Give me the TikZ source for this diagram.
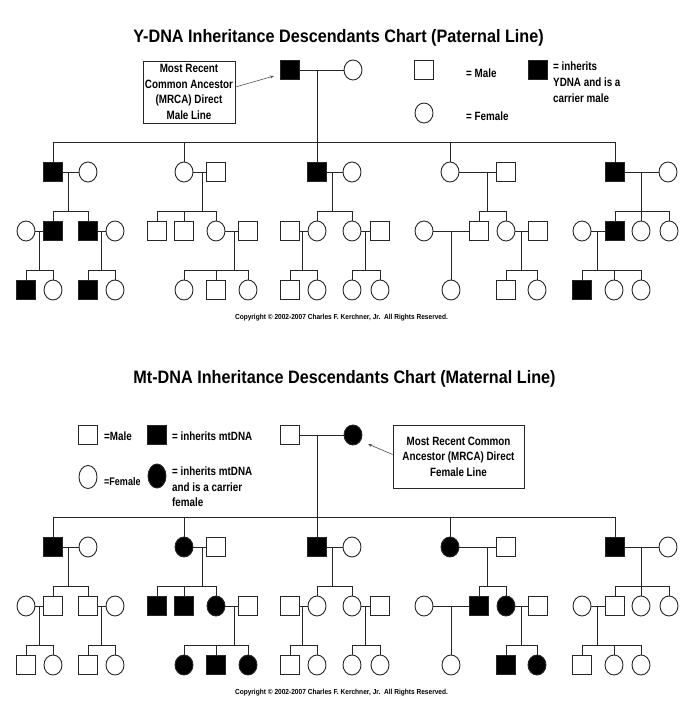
\documentclass[tikz,border=0pt]{standalone}
\usepackage{fontspec}
\setmainfont{Liberation Sans}
\newfontfamily\nfont[FakeStretch=0.82]{Liberation Sans}
\newfontfamily\tfont[FakeStretch=0.9]{Liberation Sans}
\usetikzlibrary{shapes.geometric,arrows.meta}
\tikzset{
  person/.style={draw=black!85, line width=0.9pt, inner sep=0pt, outer sep=0pt},
  male/.style={person, rectangle, minimum width=19pt, minimum height=19pt},
  female/.style={person, ellipse, minimum width=18pt, minimum height=20pt},
  dna/.style={fill=black},
  link/.style={draw=black!85, line width=0.9pt},
  titletext/.style={font=\tfont\bfseries\fontsize{18}{20}\selectfont, inner sep=0pt, anchor=base},
  boxtext/.style={draw=black!85, line width=0.9pt, font=\nfont\bfseries\fontsize{12}{15.5}\selectfont, align=center, inner sep=0pt},
  legtext/.style={font=\nfont\bfseries\fontsize{12}{16}\selectfont, inner sep=0pt, anchor=base west, align=left},
  copytext/.style={font=\tfont\bfseries\fontsize{7.3}{8}\selectfont, inner sep=0pt},
  pointer/.style={draw=black!70, line width=0.6pt, -{Stealth[length=4pt,width=3pt]}},
}
\begin{document}
\begin{tikzpicture}[x=1pt,y=-1pt]
\useasboundingbox[fill=white] (0,0) rectangle (691,710);

%%%%%%%%%%%%%%%% TOP CHART %%%%%%%%%%%%%%%%
\node[titletext] (t-title) at (338.5,42) {Y-DNA Inheritance Descendants Chart (Paternal Line)};

% MRCA box
\node[boxtext, minimum width=92pt, minimum height=62pt] (t-box) at (189,92) {Most Recent\\Common Ancestor\\(MRCA) Direct\\Male Line};
\coordinate (t-arr) at (274,76);
\draw[pointer] ([yshift=5pt]t-box.east) -- (t-arr);

% legend
\node[male] (t-lm) at (424,70) {};
\node[legtext] (t-lmt) at (466,77) {= Male};
\node[female] (t-lf) at (424,113) {};
\node[legtext] (t-lft) at (466,120) {= Female};
\node[male,dna] (t-lc) at (538,70) {};
\node[legtext, anchor=north west] (t-lct) at (553,61.5) {= inherits\\YDNA and is a\\carrier male};

% MRCA couple
\node[male,dna] (t-m) at (290,70) {};
\node[female] (t-f) at (353,70) {};
\draw[link] (t-m) -- (t-f);
\coordinate (t-mv) at (317,70);

% generation 1
\node[male,dna] (t-g1a) at (53,172) {};
\node[female] (t-g1b) at (88,172) {};
\node[female] (t-g2a) at (184,172) {};
\node[male] (t-g2b) at (216,172) {};
\node[male,dna] (t-g3a) at (317,172) {};
\node[female] (t-g3b) at (352,172) {};
\node[female] (t-g4a) at (450,172) {};
\node[male] (t-g4b) at (506,172) {};
\node[male,dna] (t-g5a) at (615,172) {};
\node[female] (t-g5b) at (668,172) {};
\draw[link] (t-mv) -- (t-g3a);
\draw[link] (t-g1a.north) -- ++(0,-20) -| (t-g5a.north);
\draw[link] (t-g2a.north) -- ++(0,-20);
\draw[link] (t-g4a.north) -- ++(0,-20);
\draw[link] (t-g1a) -- (t-g1b);
\draw[link] (t-g2a) -- (t-g2b);
\draw[link] (t-g3a) -- (t-g3b);
\draw[link] (t-g4a) -- (t-g4b);
\draw[link] (t-g5a) -- (t-g5b);
\coordinate (t-g1m) at (68,172);
\coordinate (t-g2m) at (202,172);
\coordinate (t-g3m) at (332,172);
\coordinate (t-g4m) at (487,172);
\coordinate (t-g5m) at (641,172);

% generation 2
\node[female] (t-c1w) at (26,231) {};
\node[male,dna] (t-c1a) at (53,231) {};
\node[male,dna] (t-c1b) at (88,231) {};
\node[female] (t-c1h) at (115,231) {};
\node[male] (t-c2a) at (157,231) {};
\node[male] (t-c2b) at (184,231) {};
\node[female] (t-c2c) at (216,231) {};
\node[male] (t-c2h) at (248,231) {};
\node[male] (t-c3h) at (290,231) {};
\node[female] (t-c3a) at (317,231) {};
\node[female] (t-c3b) at (352,231) {};
\node[male] (t-c3k) at (380,231) {};
\node[female] (t-c4w) at (424,231) {};
\node[male] (t-c4a) at (479,231) {};
\node[female] (t-c4b) at (506,231) {};
\node[male] (t-c4h) at (538,231) {};
\node[female] (t-c5w) at (582,231) {};
\node[male,dna] (t-c5a) at (615,231) {};
\node[female] (t-c5b) at (641,231) {};
\node[female] (t-c5c) at (669,231) {};
% sibling lines
\draw[link] (t-c1a.north) -- ++(0,-10) -| (t-c1b.north);
\draw[link] (t-g1m) -- ++(0,39.5);
\draw[link] (t-c2a.north) -- ++(0,-10) -| (t-c2c.north);
\draw[link] (t-c2b.north) -- ++(0,-10);
\draw[link] (t-g2m) -- ++(0,39.5);
\draw[link] (t-c3a.north) -- ++(0,-10) -| (t-c3b.north);
\draw[link] (t-g3m) -- ++(0,39.5);
\draw[link] (t-c4a.north) -- ++(0,-10) -| (t-c4b.north);
\draw[link] (t-g4m) -- ++(0,39.5);
\draw[link] (t-c5a.north) -- ++(0,-10) -| (t-c5c.north);
\draw[link] (t-g5m) -- (t-c5b.north);
% marriages
\draw[link] (t-c1w) -- (t-c1a);
\draw[link] (t-c1b) -- (t-c1h);
\draw[link] (t-c2c) -- (t-c2h);
\draw[link] (t-c3h) -- (t-c3a);
\draw[link] (t-c3b) -- (t-c3k);
\draw[link] (t-c4w) -- (t-c4a);
\draw[link] (t-c4b) -- (t-c4h);
\draw[link] (t-c5w) -- (t-c5a);
\coordinate (t-c1m1) at (39,231);
\coordinate (t-c1m2) at (101,231);
\coordinate (t-c2m) at (234,231);
\coordinate (t-c3m1) at (302,231);
\coordinate (t-c3m2) at (365,231);
\coordinate (t-c4m1) at (451,231);
\coordinate (t-c4m2) at (521,231);
\coordinate (t-c5m) at (597,231);

% generation 3
\node[male,dna] (t-d1a) at (26,290) {};
\node[female] (t-d1b) at (53,290) {};
\node[male,dna] (t-d1c) at (88,290) {};
\node[female] (t-d1d) at (115,290) {};
\node[female] (t-d2a) at (184,290) {};
\node[male] (t-d2b) at (216,290) {};
\node[female] (t-d2c) at (248,290) {};
\node[male] (t-d3a) at (290,290) {};
\node[female] (t-d3b) at (317,290) {};
\node[female] (t-d3c) at (352,290) {};
\node[female] (t-d3d) at (380,290) {};
\node[female] (t-d4a) at (451,290) {};
\node[male] (t-d4b) at (506,290) {};
\node[female] (t-d4c) at (537,290) {};
\node[male,dna] (t-d5a) at (582,290) {};
\node[female] (t-d5b) at (614,290) {};
\node[female] (t-d5c) at (641,290) {};
\draw[link] (t-d1a.north) -- ++(0,-10) -| (t-d1b.north);
\draw[link] (t-c1m1) -- ++(0,39.5);
\draw[link] (t-d1c.north) -- ++(0,-10) -| (t-d1d.north);
\draw[link] (t-c1m2) -- ++(0,39.5);
\draw[link] (t-d2a.north) -- ++(0,-10) -| (t-d2c.north);
\draw[link] (t-d2b.north) -- ++(0,-10);
\draw[link] (t-c2m) -- ++(0,39.5);
\draw[link] (t-d3a.north) -- ++(0,-10) -| (t-d3b.north);
\draw[link] (t-c3m1) -- ++(0,39.5);
\draw[link] (t-d3c.north) -- ++(0,-10) -| (t-d3d.north);
\draw[link] (t-c3m2) -- ++(0,39.5);
\draw[link] (t-c4m1) -- (t-d4a.north);
\draw[link] (t-d4b.north) -- ++(0,-10) -| (t-d4c.north);
\draw[link] (t-c4m2) -- ++(0,39.5);
\draw[link] (t-d5a.north) -- ++(0,-10) -| (t-d5c.north);
\draw[link] (t-d5b.north) -- ++(0,-10);
\draw[link] (t-c5m) -- ++(0,39.5);

\node[copytext] (t-copy) at (341.5,318) {Copyright \textcopyright\ 2002-2007 Charles F. Kerchner, Jr.\ \ All Rights Reserved.};

%%%%%%%%%%%%%%%% BOTTOM CHART %%%%%%%%%%%%%%%%
\node[titletext] (b-title) at (344.5,383) {Mt-DNA Inheritance Descendants Chart (Maternal Line)};

% legend
\node[male] (b-lm) at (88,435) {};
\node[legtext] (b-lmt) at (104,440) {=Male};
\node[male,dna] (b-ld) at (157,435) {};
\node[legtext] (b-ldt) at (172,440) {= inherits mtDNA};
\node[female, minimum width=18pt, minimum height=23pt] (b-lf) at (88,477) {};
\node[legtext, font=\nfont\bfseries\fontsize{11}{15}\selectfont] (b-lft) at (104,485) {=Female};
\node[female, dna, minimum width=18pt, minimum height=24pt] (b-lfd) at (157,476) {};
\node[legtext, anchor=north west, font=\nfont\bfseries\fontsize{12}{15.5}\selectfont] (b-lfdt) at (172,467) {= inherits mtDNA\\and is a carrier\\female};

% MRCA box
\node[boxtext, minimum width=131pt, minimum height=63pt] (b-box) at (458.5,456.5) {Most Recent Common\\Ancestor (MRCA) Direct\\Female Line};
\coordinate (b-arr) at (368,444);
\draw[pointer] ([yshift=2pt]b-box.west) -- (b-arr);

% MRCA couple
\node[male] (b-m) at (290,435) {};
\node[female,dna] (b-f) at (353,435) {};
\draw[link] (b-m) -- (b-f);
\coordinate (b-mv) at (317,435);

% generation 1
\node[male,dna] (b-g1a) at (53,547) {};
\node[female] (b-g1b) at (88,547) {};
\node[female,dna] (b-g2a) at (184,547) {};
\node[male] (b-g2b) at (216,547) {};
\node[male,dna] (b-g3a) at (317,547) {};
\node[female] (b-g3b) at (352,547) {};
\node[female,dna] (b-g4a) at (450,547) {};
\node[male] (b-g4b) at (506,547) {};
\node[male,dna] (b-g5a) at (615,547) {};
\node[female] (b-g5b) at (668,547) {};
\draw[link] (b-mv) -- (b-g3a);
\draw[link] (b-g1a.north) -- ++(0,-20) -| (b-g5a.north);
\draw[link] (b-g2a.north) -- ++(0,-20);
\draw[link] (b-g4a.north) -- ++(0,-20);
\draw[link] (b-g1a) -- (b-g1b);
\draw[link] (b-g2a) -- (b-g2b);
\draw[link] (b-g3a) -- (b-g3b);
\draw[link] (b-g4a) -- (b-g4b);
\draw[link] (b-g5a) -- (b-g5b);
\coordinate (b-g1m) at (68,547);
\coordinate (b-g2m) at (202,547);
\coordinate (b-g3m) at (332,547);
\coordinate (b-g4m) at (487,547);
\coordinate (b-g5m) at (641,547);

% generation 2
\node[female] (b-c1w) at (26,606) {};
\node[male] (b-c1a) at (53,606) {};
\node[male] (b-c1b) at (88,606) {};
\node[female] (b-c1h) at (115,606) {};
\node[male,dna] (b-c2a) at (157,606) {};
\node[male,dna] (b-c2b) at (184,606) {};
\node[female,dna] (b-c2c) at (216,606) {};
\node[male] (b-c2h) at (248,606) {};
\node[male] (b-c3h) at (290,606) {};
\node[female] (b-c3a) at (317,606) {};
\node[female] (b-c3b) at (352,606) {};
\node[male] (b-c3k) at (380,606) {};
\node[female] (b-c4w) at (424,606) {};
\node[male,dna] (b-c4a) at (479,606) {};
\node[female,dna] (b-c4b) at (506,606) {};
\node[male] (b-c4h) at (538,606) {};
\node[female] (b-c5w) at (582,606) {};
\node[male] (b-c5a) at (615,606) {};
\node[female] (b-c5b) at (641,606) {};
\node[female] (b-c5c) at (669,606) {};
\draw[link] (b-c1a.north) -- ++(0,-10) -| (b-c1b.north);
\draw[link] (b-g1m) -- ++(0,39.5);
\draw[link] (b-c2a.north) -- ++(0,-10) -| (b-c2c.north);
\draw[link] (b-c2b.north) -- ++(0,-10);
\draw[link] (b-g2m) -- ++(0,39.5);
\draw[link] (b-c3a.north) -- ++(0,-10) -| (b-c3b.north);
\draw[link] (b-g3m) -- ++(0,39.5);
\draw[link] (b-c4a.north) -- ++(0,-10) -| (b-c4b.north);
\draw[link] (b-g4m) -- ++(0,39.5);
\draw[link] (b-c5a.north) -- ++(0,-10) -| (b-c5c.north);
\draw[link] (b-g5m) -- (b-c5b.north);
\draw[link] (b-c1w) -- (b-c1a);
\draw[link] (b-c1b) -- (b-c1h);
\draw[link] (b-c2c) -- (b-c2h);
\draw[link] (b-c3h) -- (b-c3a);
\draw[link] (b-c3b) -- (b-c3k);
\draw[link] (b-c4w) -- (b-c4a);
\draw[link] (b-c4b) -- (b-c4h);
\draw[link] (b-c5w) -- (b-c5a);
\coordinate (b-c1m1) at (39,606);
\coordinate (b-c1m2) at (101,606);
\coordinate (b-c2m) at (234,606);
\coordinate (b-c3m1) at (302,606);
\coordinate (b-c3m2) at (365,606);
\coordinate (b-c4m1) at (451,606);
\coordinate (b-c4m2) at (521,606);
\coordinate (b-c5m) at (597,606);

% generation 3
\node[male] (b-d1a) at (26,665) {};
\node[female] (b-d1b) at (53,665) {};
\node[male] (b-d1c) at (88,665) {};
\node[female] (b-d1d) at (115,665) {};
\node[female,dna] (b-d2a) at (184,665) {};
\node[male,dna] (b-d2b) at (216,665) {};
\node[female,dna] (b-d2c) at (248,665) {};
\node[male] (b-d3a) at (290,665) {};
\node[female] (b-d3b) at (317,665) {};
\node[female] (b-d3c) at (352,665) {};
\node[female] (b-d3d) at (380,665) {};
\node[female] (b-d4a) at (451,665) {};
\node[male,dna] (b-d4b) at (506,665) {};
\node[female,dna] (b-d4c) at (537,665) {};
\node[male] (b-d5a) at (582,665) {};
\node[female] (b-d5b) at (614,665) {};
\node[female] (b-d5c) at (641,665) {};
\draw[link] (b-d1a.north) -- ++(0,-10) -| (b-d1b.north);
\draw[link] (b-c1m1) -- ++(0,39.5);
\draw[link] (b-d1c.north) -- ++(0,-10) -| (b-d1d.north);
\draw[link] (b-c1m2) -- ++(0,39.5);
\draw[link] (b-d2a.north) -- ++(0,-10) -| (b-d2c.north);
\draw[link] (b-d2b.north) -- ++(0,-10);
\draw[link] (b-c2m) -- ++(0,39.5);
\draw[link] (b-d3a.north) -- ++(0,-10) -| (b-d3b.north);
\draw[link] (b-c3m1) -- ++(0,39.5);
\draw[link] (b-d3c.north) -- ++(0,-10) -| (b-d3d.north);
\draw[link] (b-c3m2) -- ++(0,39.5);
\draw[link] (b-c4m1) -- (b-d4a.north);
\draw[link] (b-d4b.north) -- ++(0,-10) -| (b-d4c.north);
\draw[link] (b-c4m2) -- ++(0,39.5);
\draw[link] (b-d5a.north) -- ++(0,-10) -| (b-d5c.north);
\draw[link] (b-d5b.north) -- ++(0,-10);
\draw[link] (b-c5m) -- ++(0,39.5);

\node[copytext] (b-copy) at (341.5,693) {Copyright \textcopyright\ 2002-2007 Charles F. Kerchner, Jr.\ \ All Rights Reserved.};
\end{tikzpicture}
\end{document}
